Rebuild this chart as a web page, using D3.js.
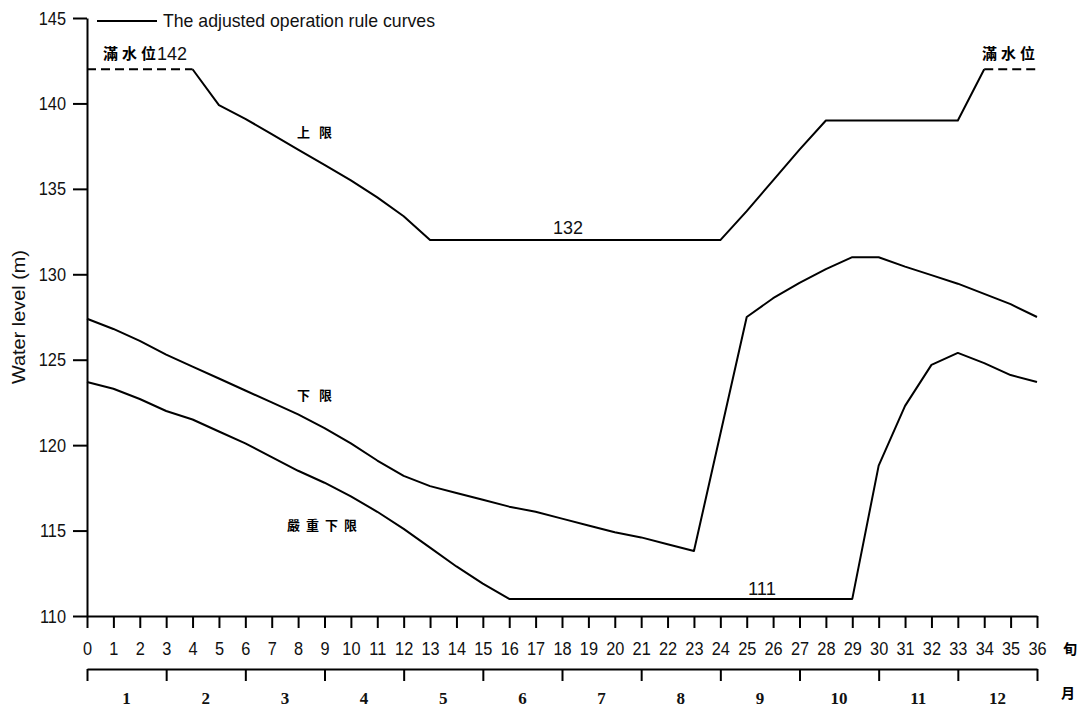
<!DOCTYPE html>
<html>
<head>
<meta charset="utf-8">
<script src="https://cdn.jsdelivr.net/npm/d3@7"></script>
<style>
  html, body { margin: 0; padding: 0; background: #fff; }
  svg { display: block; }
  .narrow { font-family: "Liberation Sans", Arial, sans-serif; }
  .cjk { font-family: "Noto Sans CJK TC", "Noto Sans CJK SC", sans-serif; font-weight: 700; }
</style>
</head>
<body>
<svg id="chart" width="1083" height="709"></svg>
<script>
// ---------- data ----------
const yTicks = [110, 115, 120, 125, 130, 135, 140, 145];
const dekadTicks = [0,1,2,3,4,5,6,7,8,9,10,11,12,13,14,15,16,17,18,19,20,21,22,23,24,25,26,27,28,29,30,31,32,33,34,35,36];
const monthBoundaries = [0, 3, 6, 9, 12, 15, 18, 21, 24, 27, 30, 33, 36];
const monthLabels = ["1","2","3","4","5","6","7","8","9","10","11","12"];
const monthCenters = [1.5, 4.5, 7.5, 10.5, 13.5, 16.5, 19.5, 22.5, 25.5, 28.5, 31.5, 34.5];

const fullLevel = 142;
const fullLeftX = [0, 4];
const fullRightX = [34, 36];

const upperX = [4, 5, 6, 7, 8, 9, 10, 11, 12, 13, 24, 25, 26, 27, 28, 33, 34];
const upperY = [142, 139.9, 139.1, 138.2, 137.3, 136.4, 135.5, 134.5, 133.4, 132, 132, 133.7, 135.5, 137.3, 139, 139, 142];

const lowerX = [0,1,2,3,4,5,6,7,8,9,10,11,12,13,14,15,16,17,18,19,20,21,22,23,25,26,27,28,29,30,31,32,33,34,35,36];
const lowerY = [127.4,126.8,126.1,125.3,124.6,123.9,123.2,122.5,121.8,121.0,120.1,119.1,118.2,117.6,117.2,116.8,116.4,116.1,115.7,115.3,114.9,114.6,114.2,113.8,127.5,128.6,129.5,130.3,131.0,131.0,130.45,129.95,129.45,128.85,128.25,127.5];

const severeX = [0,1,2,3,4,5,6,7,8,9,10,11,12,13,14,15,16,29,30,31,32,33,34,35,36];
const severeY = [123.7,123.3,122.7,122.0,121.5,120.8,120.1,119.3,118.5,117.8,117.0,116.1,115.1,114.0,112.9,111.9,111.0,111.0,118.8,122.3,124.7,125.4,124.8,124.1,123.7];

// ---------- chart ----------
const svg = d3.select("#chart");
const x = d3.scaleLinear().domain([0, 36]).range([87, 1037]);
const y = d3.scaleLinear().domain([110, 145]).range([616, 18]);
const SX = 0.86; // horizontal condensing of the narrow sans labels

const line = d3.line().x(d => x(d[0])).y(d => y(d[1]));
const zip = (xs, ys) => xs.map((v, i) => [v, ys[i]]);

// Y axis
const gy = svg.append("g").attr("transform", `translate(${x(0)},0)`)
  .call(d3.axisLeft(y).tickValues(yTicks).tickSize(14).tickSizeOuter(0).tickPadding(7).tickFormat(d3.format("d")));
gy.select(".domain").attr("stroke", "#000").attr("stroke-width", 2);
gy.selectAll(".tick line").attr("stroke", "#000").attr("stroke-width", 2);
gy.selectAll("text").attr("class", "narrow").attr("font-size", 19).attr("fill", "#111")
  .attr("x", -21 / SX).attr("transform", `scale(${SX},1)`);

// X axis (dekads)
const gx = svg.append("g").attr("transform", `translate(0,${y(110)})`)
  .call(d3.axisBottom(x).tickValues(dekadTicks).tickSize(12).tickSizeOuter(0).tickPadding(14).tickFormat(d3.format("d")));
gx.select(".domain").attr("stroke", "#000").attr("stroke-width", 2);
gx.selectAll(".tick line").attr("stroke", "#000").attr("stroke-width", 2);
gx.selectAll("text").attr("class", "narrow").attr("font-size", 19).attr("fill", "#111")
  .attr("transform", `scale(${SX},1)`);

// Month axis
const gm = svg.append("g").attr("transform", "translate(0,669)")
  .call(d3.axisBottom(x).tickValues(monthBoundaries).tickSize(12).tickSizeOuter(0).tickFormat(""));
gm.select(".domain").attr("stroke", "#000").attr("stroke-width", 2);
gm.selectAll(".tick line").attr("stroke", "#000").attr("stroke-width", 2);

svg.append("g").selectAll("text").data(monthLabels).join("text")
  .attr("x", (d, i) => x(monthCenters[i]))
  .attr("y", 704)
  .attr("text-anchor", "middle")
  .attr("font-family", "Liberation Serif, serif")
  .attr("font-weight", 700)
  .attr("font-size", 17)
  .attr("fill", "#111")
  .text(d => d);

// unit labels on the right
svg.append("text").attr("class", "cjk").attr("x", 1070).attr("y", 654).attr("text-anchor", "middle").attr("font-size", 14).text("旬");
svg.append("text").attr("class", "cjk").attr("x", 1068).attr("y", 698).attr("text-anchor", "middle").attr("font-size", 14).text("月");

// Y axis title
svg.append("text").attr("class", "narrow")
  .attr("transform", "translate(25,317) rotate(-90)")
  .attr("text-anchor", "middle").attr("font-size", 19).attr("fill", "#111")
  .attr("textLength", 134).attr("lengthAdjust", "spacingAndGlyphs")
  .text("Water level (m)");

// Curves
const curveG = svg.append("g").attr("fill", "none").attr("stroke", "#000").attr("stroke-width", 2).attr("stroke-linejoin", "round");
curveG.append("path").attr("d", line(fullLeftX.map(v => [v, fullLevel]))).attr("stroke-dasharray", "9,5");
curveG.append("path").attr("d", line(fullRightX.map(v => [v, fullLevel]))).attr("stroke-dasharray", "9,5");
curveG.append("path").attr("d", line(zip(upperX, upperY)));
curveG.append("path").attr("d", line(zip(lowerX, lowerY)));
curveG.append("path").attr("d", line(zip(severeX, severeY)));

// Legend
svg.append("line").attr("x1", 97).attr("x2", 157).attr("y1", 21).attr("y2", 21).attr("stroke", "#000").attr("stroke-width", 2);
svg.append("text").attr("class", "narrow").attr("x", 163).attr("y", 27).attr("font-size", 19).attr("fill", "#111")
  .attr("textLength", 272).attr("lengthAdjust", "spacingAndGlyphs")
  .text("The adjusted operation rule curves");

// Annotations
svg.append("text").attr("class", "cjk").attr("x", 103).attr("y", 59).attr("font-size", 15).attr("letter-spacing", 4).text("滿水位");
svg.append("text").attr("class", "narrow").attr("x", 157).attr("y", 60).attr("font-size", 19).attr("fill", "#111")
  .attr("textLength", 30).attr("lengthAdjust", "spacingAndGlyphs").text("142");
svg.append("text").attr("class", "cjk").attr("x", 982).attr("y", 59).attr("font-size", 15).attr("letter-spacing", 4).text("滿水位");
svg.append("text").attr("class", "cjk").attr("x", 297).attr("y", 137).attr("font-size", 13).attr("letter-spacing", 9).text("上限");
svg.append("text").attr("class", "cjk").attr("x", 297).attr("y", 400).attr("font-size", 13).attr("letter-spacing", 9).text("下限");
svg.append("text").attr("class", "cjk").attr("x", 287).attr("y", 530).attr("font-size", 13).attr("letter-spacing", 6).text("嚴重下限");
svg.append("text").attr("class", "narrow").attr("x", 553).attr("y", 234).attr("font-size", 19).attr("fill", "#111")
  .attr("textLength", 30).attr("lengthAdjust", "spacingAndGlyphs").text("132");
svg.append("text").attr("class", "narrow").attr("x", 748).attr("y", 595).attr("font-size", 19).attr("fill", "#111")
  .attr("textLength", 28).attr("lengthAdjust", "spacingAndGlyphs").text("111");
</script>
</body>
</html>
